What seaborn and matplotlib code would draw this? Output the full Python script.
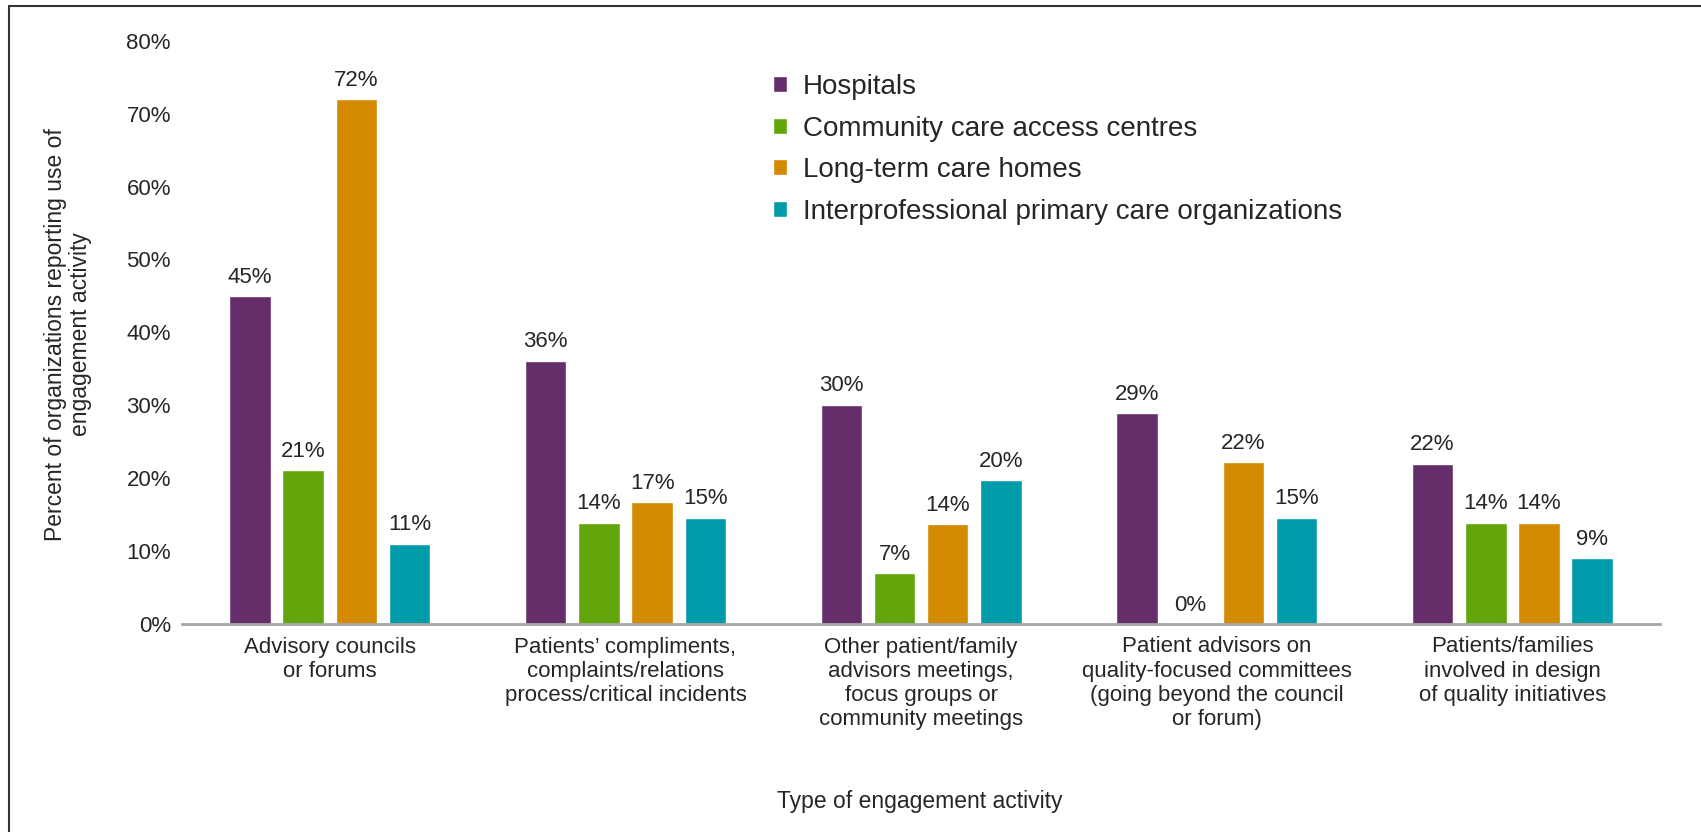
import seaborn as sns
import matplotlib.pyplot as plt
import pandas as pd
from matplotlib.lines import Line2D

# Data
activities = [
    "Advisory councils\nor forums",
    "Patients\u2019 compliments,\ncomplaints/relations\nprocess/critical incidents",
    "Other patient/family\nadvisors meetings,\nfocus groups or\ncommunity meetings",
    "Patient advisors on\nquality-focused committees\n(going beyond the council\nor forum)",
    "Patients/families\ninvolved in design\nof quality initiatives",
]
sectors = [
    "Hospitals",
    "Community care access centres",
    "Long-term care homes",
    "Interprofessional primary care organizations",
]
hospitals = [45.0, 36.1, 30.1, 28.9, 22.0]
ccac = [21.1, 13.9, 7.0, 0.0, 13.9]
ltc = [72.0, 16.7, 13.7, 22.2, 13.9]
ipc = [11.0, 14.6, 19.7, 14.6, 9.0]
colors = ["#652d6a", "#62a60a", "#d38900", "#009ba8"]

rows = []
for s, vals in zip(sectors, [hospitals, ccac, ltc, ipc]):
    for a, v in zip(activities, vals):
        rows.append({"activity": a, "sector": s, "pct": v})
df = pd.DataFrame(rows)

sns.set_style("white")
plt.rcParams["font.family"] = ["Liberation Sans", "DejaVu Sans"]

fig = plt.figure(figsize=(17.01, 8.32), dpi=100)
ax = fig.add_axes([0.107, 0.25, 0.869, 0.701])

sns.barplot(data=df, x="activity", y="pct", hue="sector", palette=colors,
            order=activities, hue_order=sectors, width=0.72, gap=0.22,
            saturation=1, ax=ax)

for c in ax.containers:
    ax.bar_label(c, labels=[f"{v:.0f}%" for v in c.datavalues],
                 padding=6, fontsize=16)

ax.set_ylim(0, 80)
ax.set_xlim(-0.5, 4.5)
ax.set_yticks(range(0, 81, 10))
ax.set_yticklabels([f"{t}%" for t in range(0, 81, 10)], fontsize=16)
ax.tick_params(axis="x", labelsize=16, pad=9, length=0)
ax.tick_params(axis="y", pad=8, length=0)
for side in ["top", "right", "left"]:
    ax.spines[side].set_visible(False)
ax.spines["bottom"].set_color("#a6a6a6")
ax.spines["bottom"].set_linewidth(2)

ax.set_xlabel("")
ax.set_ylabel("")
fig.text(0.040, 0.598, "Percent of organizations reporting use of\nengagement activity",
         rotation=90, ha="center", va="center", fontsize=16.5, linespacing=1.1)
fig.text(0.541, 0.037, "Type of engagement activity", ha="center", va="center",
         fontsize=16.5)

ax.legend(loc="upper left", bbox_to_anchor=(0.44, 0.941),
          bbox_transform=fig.transFigure, frameon=False, fontsize=20,
          handlelength=0.5, handleheight=0.5, handletextpad=0.55,
          labelspacing=0.56)

# partial frame around the figure
fig.add_artist(Line2D([0.0053, 0.0053], [0, 0.993], color="#333333", lw=1.5))
fig.add_artist(Line2D([0.0053, 1], [0.993, 0.993], color="#333333", lw=1.5))

fig.savefig("out.png", dpi=100)
